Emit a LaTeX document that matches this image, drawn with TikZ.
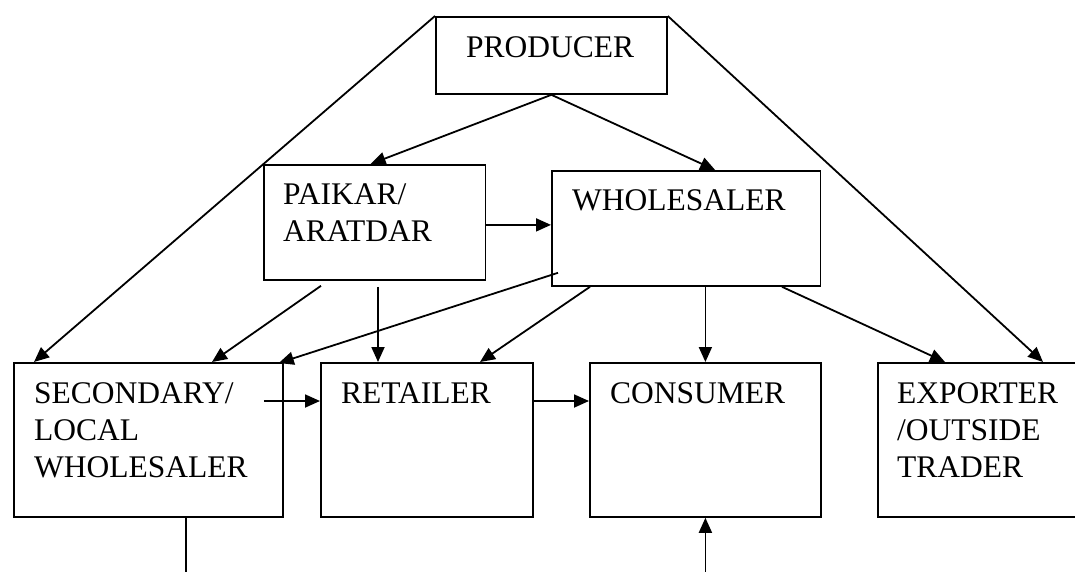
\documentclass[tikz,border=0pt]{standalone}
\usepackage{fontspec}
\setmainfont{Liberation Serif}
\usetikzlibrary{arrows.meta,calc}

\begin{document}
\begin{tikzpicture}[x=1pt, y=-1pt,
        box/.style={draw, line width=1.8pt, anchor=north west, inner sep=0pt},
        txt/.style={anchor=north west, align=left, inner sep=0pt, font=\fontsize{31.5}{37}\selectfont},
        arr/.style={line width=1.8pt, -{Triangle[length=15pt, width=13pt]}},
        ln/.style={line width=1.8pt}]

        \clip (0,0) rectangle (1075,571);

        \node[box, minimum width=231, minimum height=77] (prod) at (435,16) {};
        \node[box, minimum width=221.5, minimum height=115] (paik) at (263,164) {};
        \node[box, minimum width=268.5, minimum height=115] (whole) at (551,170) {};
        \node[box, minimum width=269, minimum height=154] (sec) at (13,362) {};
        \node[box, minimum width=212, minimum height=154] (ret) at (320,362) {};
        \node[box, minimum width=231, minimum height=154] (cons) at (589,362) {};
        \node[box, minimum width=220, minimum height=154] (exp) at (877,362) {};

        \node[txt] (prodtext) at ($(prod.north west)+(31,20)$) {PRODUCER};
        \node[txt] (paiktext) at ($(paik.north west)+(20,19)$) {PAIKAR/\\ARATDAR};
        \node[txt] (wholetext) at ($(whole.north west)+(21,19)$) {WHOLESALER};
        \node[txt] (sectext) at ($(sec.north west)+(21,20)$) {SECONDARY/\\LOCAL\\WHOLESALER};
        \node[txt] (rettext) at ($(ret.north west)+(21,20)$) {RETAILER};
        \node[txt] (constext) at ($(cons.north west)+(21,20)$) {CONSUMER};
        \node[txt] (exptext) at ($(exp.north west)+(20,20)$) {EXPORTER\\/OUTSIDE\\TRADER};

        \coordinate (paikout) at ($(paik.east)+(0,2.5)$);
        \coordinate (paikdown) at ($(paik.south west)+(115,6)$);
        \coordinate (secright) at ($(sec.north east)+(-20,39)$);
        \coordinate (retright) at ($(ret.north east)+(0,39)$);
        \coordinate (secout) at ($(sec.south west)+(173,70)$);
        \coordinate (consin) at ($(cons.south)+(0,70)$);

        \draw[arr] (prod.north west) -- ($(sec.north west)+(21,0)$);
        \draw[arr] (prod.north east) -- ($(exp.north west)+(166,0)$);
        \draw[arr] (prod.south) -- ($(paik.north)+(-4,0)$);
        \draw[arr] (prod.south) -- ($(whole.north)+(29,0)$);

        \draw[arr] (paikout) -- (paikout -| whole.west);
        \draw[arr] ($(paik.south west)+(58,5)$) -- ($(sec.north west)+(199,0)$);
        \draw[arr] (paikdown) -- (paikdown |- ret.north);

        \draw[arr] ($(whole.south west)+(7,-14)$) -- ($(sec.north east)+(-5,1)$);
        \draw[arr] ($(whole.south west)+(39,0)$) -- ($(ret.north west)+(160,0)$);
        \draw[arr] (cons.north |- whole.south) -- (cons.north);
        \draw[arr] ($(whole.south west)+(231,0)$) -- ($(exp.north west)+(68,0)$);

        \draw[arr] (secright) -- (secright -| ret.west);
        \draw[arr] (retright) -- (retright -| cons.west);

        \draw[ln] (secout |- sec.south) -- (secout);
        \draw[arr] (consin) -- (cons.south);

    \end{tikzpicture}
\end{document}
